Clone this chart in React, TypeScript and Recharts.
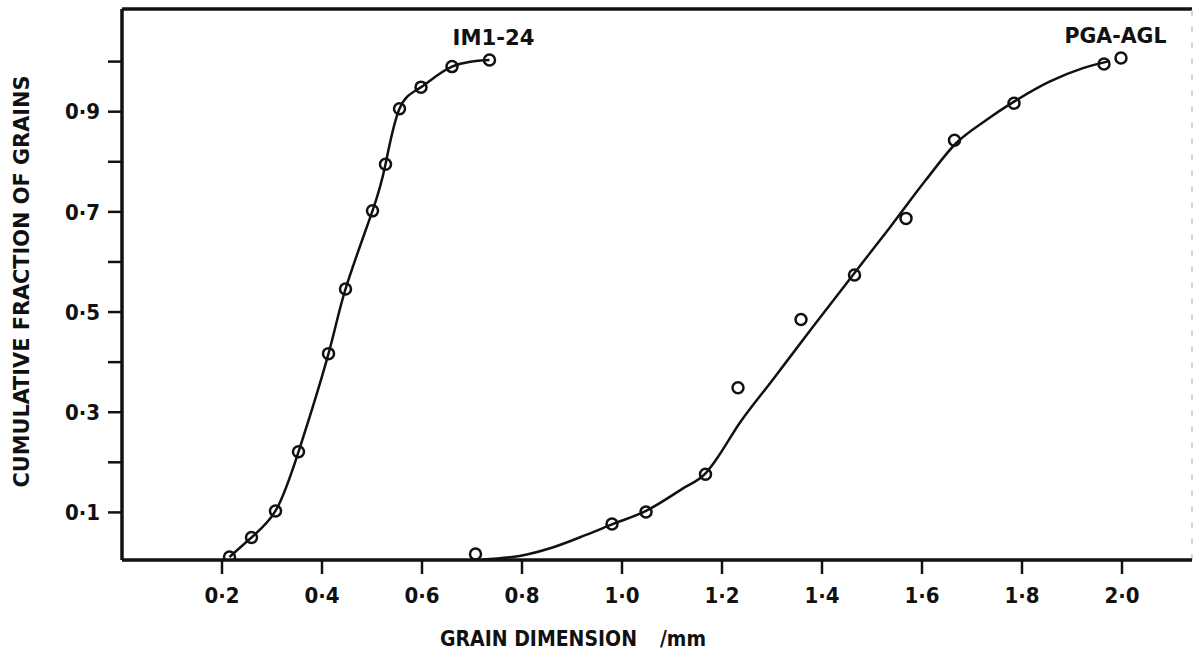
import {
  ComposedChart,
  Line,
  ReferenceDot,
  ReferenceLine,
  Scatter,
  XAxis,
  YAxis,
} from "recharts";

// Values (grain size in mm, cumulative fraction).
const IM_X = [0.215, 0.259, 0.307, 0.353, 0.413, 0.447, 0.501, 0.527, 0.555, 0.598, 0.66, 0.735];
const IM_Y = [0.011, 0.05, 0.103, 0.221, 0.417, 0.546, 0.702, 0.795, 0.906, 0.949, 0.99, 1.003];

const PGA_X = [0.707, 0.98, 1.048, 1.167, 1.232, 1.358, 1.465, 1.568, 1.665, 1.784, 1.964, 1.998];
const PGA_Y = [0.017, 0.077, 0.101, 0.176, 0.349, 0.485, 0.574, 0.687, 0.843, 0.917, 0.995, 1.007];

const PGA_FIT_X = [
  0.72, 0.795, 0.861, 0.928, 0.98, 1.048, 1.122, 1.167, 1.188, 1.235, 1.3,
  1.38, 1.465, 1.535, 1.608, 1.668, 1.728, 1.784, 1.855, 1.922, 1.975,
];
const PGA_FIT_Y = [
  0.006, 0.013, 0.03, 0.055, 0.076, 0.103, 0.148, 0.178, 0.205, 0.278, 0.363,
  0.468, 0.578, 0.668, 0.764, 0.837, 0.883, 0.92, 0.96, 0.987, 1.001,
];

const X_TICKS = [0.2, 0.4, 0.6, 0.8, 1.0, 1.2, 1.4, 1.6, 1.8, 2.0];
const Y_TICKS = [0.1, 0.2, 0.3, 0.4, 0.5, 0.6, 0.7, 0.8, 0.9, 1.0];
const Y_LABELLED = [0.1, 0.3, 0.5, 0.7, 0.9];

const X_DOMAIN: [number, number] = [0, 2.14];
const Y_DOMAIN: [number, number] = [0.005, 1.105];

const FONT = "'DejaVu Sans Condensed', 'Liberation Sans Narrow', 'DejaVu Sans', sans-serif";
const INK = "#111";

const zip = (xs: number[], ys: number[]) => xs.map((x, i) => ({ x, y: ys[i] }));

const imData = zip(IM_X, IM_Y);
const pgaPoints = zip(PGA_X, PGA_Y);
const pgaFit = zip(PGA_FIT_X, PGA_FIT_Y);

// British-style decimal point, as printed on the figure.
const fmt = (v: number) => v.toFixed(1).replace(".", "\u00b7");

const textStyle = {
  fontFamily: FONT,
  fontWeight: 600,
  fill: INK,
};

const openCircle = (p: any) => (
  <circle cx={p.cx} cy={p.cy} r={5.5} fill="none" stroke={INK} strokeWidth={2.5} />
);

const seriesLabel = (text: string, w: number) => (p: any) => (
  <text
    x={p.cx}
    y={p.cy}
    textAnchor="middle"
    fontSize={22}
    textLength={w}
    lengthAdjust="spacingAndGlyphs"
    {...textStyle}
  >
    {text}
  </text>
);

export default function App() {
  return (
    <div style={{ position: "absolute", left: 0, top: 0, background: "#fff" }}>
      <ComposedChart
        width={1193}
        height={656}
        margin={{ top: 9, right: 1, bottom: 0, left: 0 }}
      >
        <XAxis
          dataKey="x"
          type="number"
          domain={X_DOMAIN}
          allowDataOverflow
          ticks={X_TICKS}
          interval={0}
          tickFormatter={fmt}
          height={96}
          tickSize={14}
          tickMargin={13}
          axisLine={{ stroke: INK, strokeWidth: 3.5 }}
          tickLine={{ stroke: INK, strokeWidth: 2.5 }}
          tick={{ ...textStyle, fontSize: 22 }}
          label={{
            content: (props: any) => {
              const vb = props.viewBox;
              const y = vb.y + 86;
              return (
                <g>
                  <text x={440} y={y} fontSize={21} textLength={197} lengthAdjust="spacingAndGlyphs" {...textStyle}>
                    GRAIN DIMENSION
                  </text>
                  <text x={660} y={y} fontSize={21} textLength={46} lengthAdjust="spacingAndGlyphs" {...textStyle}>
                    /mm
                  </text>
                </g>
              );
            },
          }}
        />
        <YAxis
          dataKey="y"
          type="number"
          domain={Y_DOMAIN}
          allowDataOverflow
          ticks={Y_TICKS}
          interval={0}
          tickFormatter={(v: number) => (Y_LABELLED.includes(v) ? fmt(v) : "")}
          width={122}
          tickSize={14}
          tickMargin={8}
          axisLine={{ stroke: INK, strokeWidth: 3.5 }}
          tickLine={{ stroke: INK, strokeWidth: 2.5 }}
          tick={{ ...textStyle, fontSize: 22 }}
          label={{
            content: (props: any) => {
              const vb = props.viewBox;
              const cx = 29;
              const cy = vb.y + vb.height / 2 - 3;
              return (
                <text
                  x={cx}
                  y={cy}
                  transform={`rotate(-90 ${cx} ${cy})`}
                  textAnchor="middle"
                  fontSize={22}
                  textLength={412}
                  lengthAdjust="spacingAndGlyphs"
                  {...textStyle}
                >
                  CUMULATIVE FRACTION OF GRAINS
                </text>
              );
            },
          }}
        />

        {/* frame: heavy top rule, faint right edge of the scanned box */}
        <ReferenceLine y={Y_DOMAIN[1]} stroke={INK} strokeWidth={3.5} />
        <ReferenceLine x={X_DOMAIN[1]} stroke="#c8c8c8" strokeWidth={1.5} strokeDasharray="6 10" />

        <Line
          data={imData}
          dataKey="y"
          type="natural"
          stroke={INK}
          strokeWidth={2.5}
          dot={openCircle}
          activeDot={false}
          isAnimationActive={false}
        />
        <Line
          data={pgaFit}
          dataKey="y"
          type="monotone"
          stroke={INK}
          strokeWidth={2.5}
          dot={false}
          activeDot={false}
          isAnimationActive={false}
        />
        <Scatter data={pgaPoints} dataKey="y" shape={openCircle} isAnimationActive={false} />

        <ReferenceDot x={0.743} y={1.033} r={0} shape={seriesLabel("IM1-24", 82)} />
        <ReferenceDot x={1.987} y={1.037} r={0} shape={seriesLabel("PGA-AGL", 102)} />
      </ComposedChart>
    </div>
  );
}
